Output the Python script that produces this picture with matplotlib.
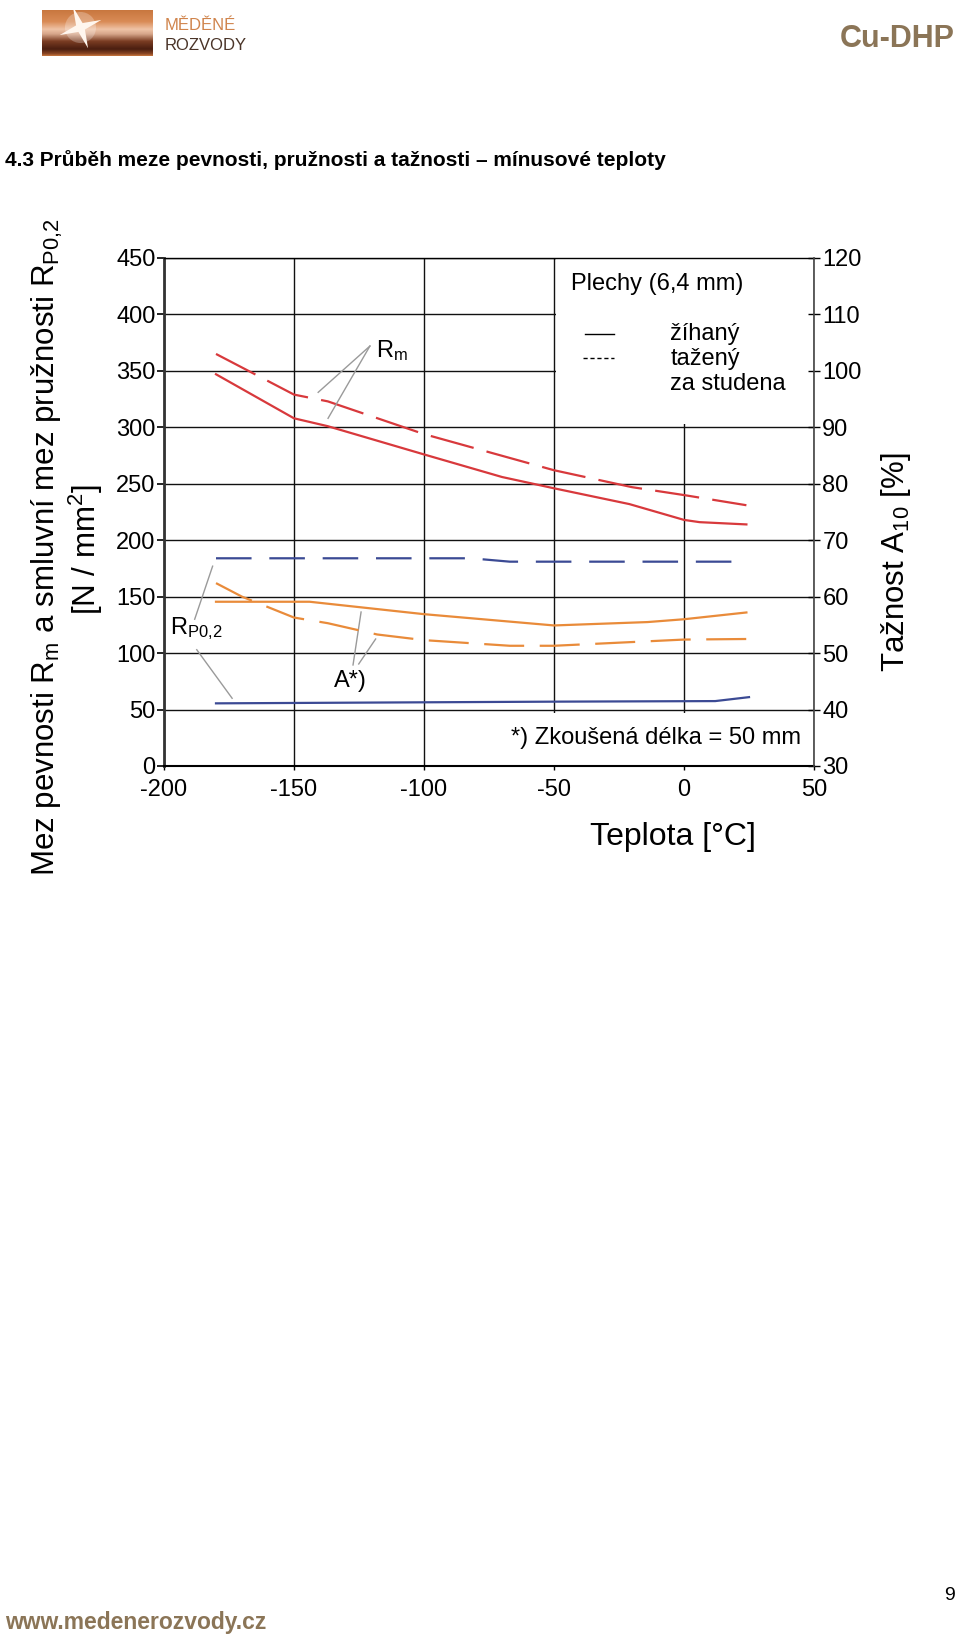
import numpy as np
import matplotlib
matplotlib.use("Agg")
import matplotlib.pyplot as plt
from matplotlib.patches import Rectangle
from matplotlib.colors import LinearSegmentedColormap
from matplotlib.path import Path

plt.rcParams['font.family'] = ['Liberation Sans', 'DejaVu Sans']
plt.rcParams['mathtext.fontset'] = 'custom'
plt.rcParams['mathtext.rm'] = 'Liberation Sans'
plt.rcParams['mathtext.it'] = 'Liberation Sans:italic'
plt.rcParams['axes.unicode_minus'] = False

# --- data ---
# mez pevnosti Rm [N/mm2]
t_rm_zihany = [-180, -150, -137, -100, -70, -50, -21, 0, 6, 24]
rm_zihany = [347, 308, 301, 276, 256, 246, 232, 218, 216, 214]
t_rm_tazeny = [-180, -150, -137, -100, -50, -20, 0, 24]
rm_tazeny = [365, 329, 323, 294, 262, 247, 240, 231]

# mez pruznosti Rp0,2 [N/mm2]
t_rp_zihany = [-180, -50, 12, 25]
rp_zihany = [55.5, 57, 57.5, 61]
t_rp_tazeny = [-180, -82, -67, 24]
rp_tazeny = [184, 184, 181, 181]

# taznost A10 [%] (prava osa)
t_a_zihany = [-180, -144, -100, -50, -14, 0, 24]
a_zihany = [59.1, 59.1, 56.9, 54.9, 55.5, 56.0, 57.2]
t_a_tazeny = [-180, -170, -150, -137, -118, -100, -67, -50, 0, 24]
a_tazeny = [62.4, 60.0, 56.3, 55.3, 53.3, 52.3, 51.3, 51.3, 52.4, 52.5]

x_ticks = [-200, -150, -100, -50, 0, 50]
left_ticks = list(range(0, 451, 50))
right_ticks = list(range(30, 121, 10))

RED = '#d8393c'
BLUE = '#3b4a94'
ORANGE = '#e98b3a'
GRAY = '#9a9a9a'
TAUPE = '#8b7557'

fig = plt.figure(figsize=(9.6, 16.36), dpi=100)

# --- hlavicka ---
logo = fig.add_axes([42 / 960, 1 - 56 / 1636, 111 / 960, 46 / 1636])
copper = LinearSegmentedColormap.from_list('copper_logo', [
    (0.0, '#c8773f'), (0.25, '#d98b56'), (0.42, '#efc3a6'), (0.52, '#d7a68a'),
    (0.68, '#7a3c22'), (0.85, '#4a1e10'), (0.95, '#8a4624'), (1.0, '#c8773f')])
logo.imshow(np.linspace(0, 1, 256).reshape(-1, 1), cmap=copper, aspect='auto',
            extent=(0, 1, 0, 1))
ang = np.deg2rad(np.arange(8) * 45 + 20)
rad = np.array([1, 0.22] * 4)
star = Path(np.column_stack([rad * np.cos(ang), rad * np.sin(ang)]))
logo.scatter([0.34], [0.62], s=500, color='white', alpha=0.25, lw=0)
logo.scatter([0.34], [0.62], marker=star, s=900, color='#fff6ee', lw=0)
logo.set_xlim(0, 1)
logo.set_ylim(0, 1)
logo.axis('off')

fig.text(165 / 960, 1 - 30 / 1636, 'MĚDĚNÉ', fontsize=12,
         color='#d0844c', va='baseline')
fig.text(165 / 960, 1 - 50 / 1636, 'ROZVODY', fontsize=12,
         color='#4a3428', va='baseline')
fig.text(955 / 960, 1 - 47 / 1636, 'Cu-DHP', fontsize=22,
         fontweight='bold', color=TAUPE, ha='right', va='baseline')

fig.text(5 / 960, 1 - 160 / 1636,
         '4.3 Průběh meze pevnosti, pružnosti a tažnosti – mínusové teploty',
         fontsize=15, fontweight='bold', va='center')

# --- graf ---
ax = fig.add_axes([164 / 960, 1 - 766 / 1636, 650 / 960, 508 / 1636])
ax.set_xlim(-200, 50)
ax.set_ylim(0, 450)
ax.set_xticks(x_ticks)
ax.set_yticks(left_ticks)
ax.set_axisbelow(True)
ax.grid(True, color='#111111', lw=1.0)

# bile plochy pod legendou a poznamkou
ax.add_patch(Rectangle((-49.4, 303), 99.2, 146.5, facecolor='white',
                       edgecolor='none', zorder=1))
ax.add_patch(Rectangle((-62, 1), 111.8, 46, facecolor='white',
                       edgecolor='none', zorder=1))

ax.plot(t_rm_zihany, rm_zihany, color=RED, lw=1.6, zorder=3)
ax.plot(t_rm_tazeny, rm_tazeny, color=RED, lw=1.6, dashes=(20, 6), zorder=3)
ax.plot(t_rp_zihany, rp_zihany, color=BLUE, lw=1.6, zorder=3)
ax.plot(t_rp_tazeny, rp_tazeny, color=BLUE, lw=1.6, dashes=(16, 8), zorder=3)

ax2 = ax.twinx()
ax2.set_ylim(30, 120)
ax2.set_yticks(right_ticks)
ax2.plot(t_a_zihany, a_zihany, color=ORANGE, lw=1.6)
ax2.plot(t_a_tazeny, a_tazeny, color=ORANGE, lw=1.6, dashes=(18, 7))

for s in ['left', 'top', 'bottom']:
    ax2.spines[s].set_visible(False)
ax.spines['right'].set_visible(False)
ax.spines['left'].set_linewidth(2.0)
ax.spines['left'].set_color('#333333')
ax.spines['bottom'].set_linewidth(1.5)
ax.spines['top'].set_linewidth(1.0)
ax2.spines['right'].set_linewidth(1.2)
ax2.spines['right'].set_color('#444444')

ax.tick_params(axis='y', direction='out', length=5, width=1.2, pad=1,
               labelsize=17)
ax.tick_params(axis='x', direction='out', length=3, width=1, pad=6,
               labelsize=17)
ax2.tick_params(axis='y', direction='inout', length=8, width=1, pad=2,
                labelsize=17)

# legenda
ax.text(-43.4, 421.6, 'Plechy (6,4 mm)', fontsize=17, va='baseline')
ax.plot([-38, -27], [382.5, 382.5], color='black', lw=1.0, zorder=3)
ax.plot([-39, -27], [361, 361], color='black', lw=1.0, dashes=(3, 2),
        zorder=3)
ax.text(-5.2, 377, 'žíhaný', fontsize=17, va='baseline')
ax.text(-5.2, 355, 'tažený', fontsize=17, va='baseline')
ax.text(-5.2, 333, 'za studena', fontsize=17, va='baseline')
ax.text(45, 19.5, '*) Zkoušená délka = 50 mm', fontsize=17, ha='right',
        va='baseline')

# popisky krivek s odkazovymi carami
ax.text(-118.3, 362.6, r'R$_\mathregular{m}$', fontsize=17, va='baseline')
ax.text(-197.8, 116.6, r'R$_\mathregular{P0{,}2}$', fontsize=17,
        va='baseline')
ax.text(-134.6, 70.3, 'A*)', fontsize=17, va='baseline')
leaders = [
    ((-120.8, 372), (-140.7, 331)),
    ((-120.8, 372), (-136.9, 308)),
    ((-188.2, 130), (-181.3, 177)),
    ((-187.4, 103), (-173.8, 60)),
    ((-127.3, 89.5), (-124.2, 136.4)),
    ((-125.1, 90.4), (-118.6, 112.5)),
]
for (x0, y0), (x1, y1) in leaders:
    ax.plot([x0, x1], [y0, y1], color=GRAY, lw=1.0, zorder=3)

# popisky os
fig.text(47 / 960, 1 - 547 / 1636,
         r'Mez pevnosti R$_\mathregular{m}$ a smluvní mez pružnosti R$_\mathregular{P0{,}2}$',
         rotation=90, fontsize=22.5, ha='center', va='center')
fig.text(86 / 960, 1 - 549 / 1636, r'[N / mm$^\mathregular{2}$]',
         rotation=90, fontsize=22.5, ha='center', va='center')
fig.text(896 / 960, 1 - 562 / 1636, r'Tažnost A$_\mathregular{10}$ [%]',
         rotation=90, fontsize=22.5, ha='center', va='center')
fig.text(673 / 960, 1 - 837 / 1636, 'Teplota [°C]', fontsize=23,
         ha='center', va='center')

# paticka
fig.text(5 / 960, 1 - 1623 / 1636, 'www.medenerozvody.cz', fontsize=16.5,
         fontweight='bold', color=TAUPE, va='center')
fig.text(955 / 960, 1 - 1595 / 1636, '9', fontsize=14, ha='right',
         va='center')

fig.savefig('out.png', dpi=100)
